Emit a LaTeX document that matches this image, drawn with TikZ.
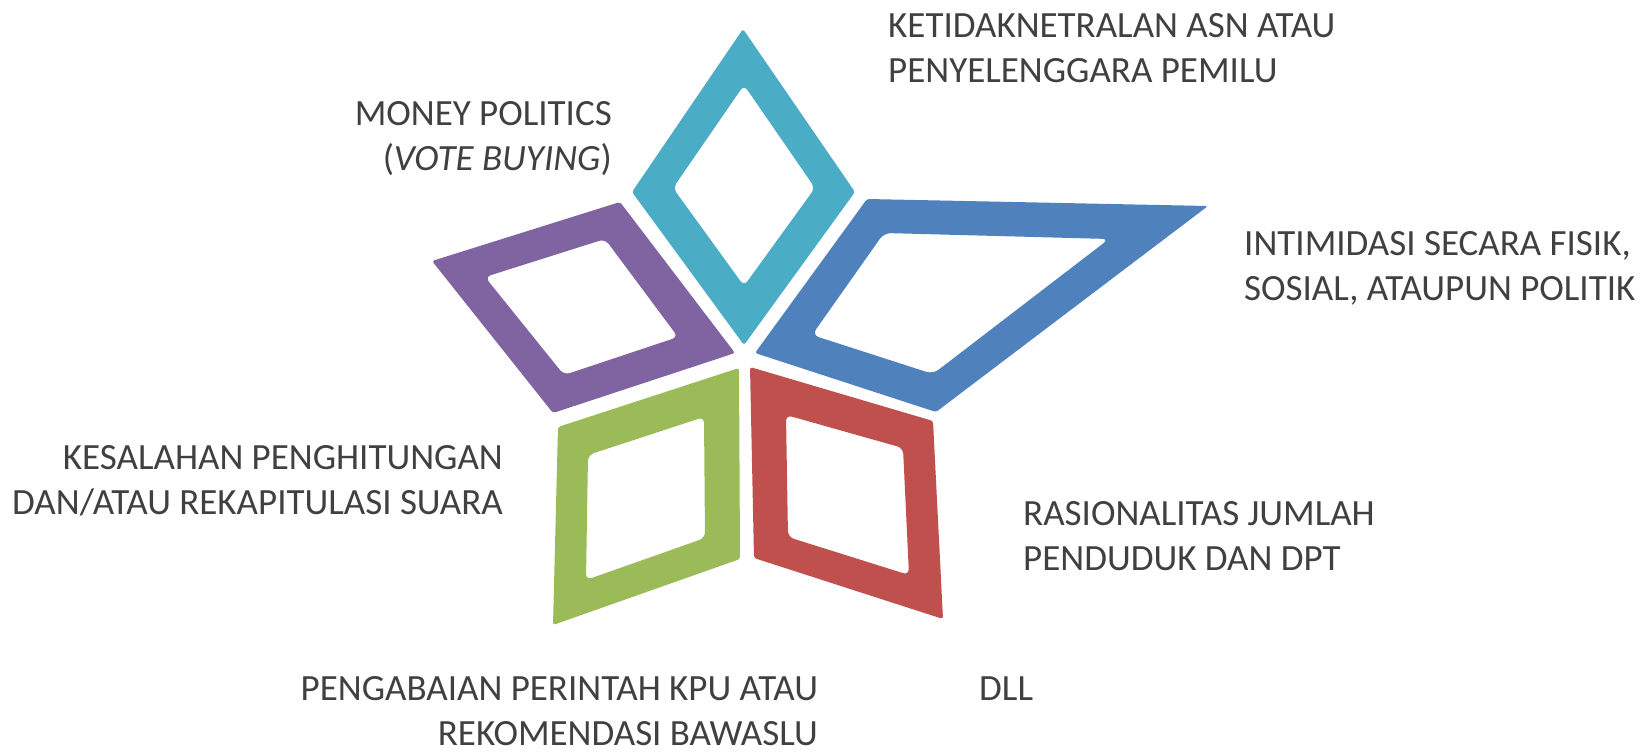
\documentclass[tikz,border=0pt]{standalone}
\usepackage{fontspec}
\setmainfont{Carlito}
\definecolor{aqua}{HTML}{4BACC6}
\definecolor{steel}{HTML}{4F81BD}
\definecolor{plum}{HTML}{8064A2}
\definecolor{leaf}{HTML}{9BBB59}
\definecolor{brick}{HTML}{C0504D}
\definecolor{ink}{HTML}{404040}
\tikzset{
petal/.style={
  fill=#1,
  even odd rule,
  rounded corners=2.5pt
  },
lbl/.style={
  inner sep=0pt,
  text=ink,
  font=\fontsize{37}{45.5}\selectfont
  }
}
\begin{document}
\begin{tikzpicture}[x=1pt,y=-1pt]
    \useasboundingbox (0,0) rectangle (1649,754);
    % petals
    \fill[petal=aqua] (743,29) -- (855,192) -- (744,345) -- (632,192) -- cycle
        [rounded corners=6pt] (744,85) -- (815,188) -- (744,286) -- (673,188) -- cycle;
    \fill[petal=steel] (867,199) -- (1208,206) -- (936,412) -- (755,353) -- cycle
        [rounded corners=7pt] (884,233) -- (1109,239) -- (933,374) -- (812,335) -- cycle;
    \fill[petal=plum] (620,202) -- (432,261) -- (553,413) -- (735,353) -- cycle
        [rounded corners=6pt] (605,239) -- (485,277) -- (564,375) -- (678,337) -- cycle;
    \fill[petal=leaf] (739,368) -- (558,427) -- (553,625) -- (740,559) -- cycle
        [rounded corners=6pt] (704,417) -- (588,455) -- (586,580) -- (705,538) -- cycle;
    \fill[petal=brick] (750,367) -- (933,421) -- (943,619) -- (754,558) -- cycle
        [rounded corners=6pt] (786,415) -- (903,448) -- (909,575) -- (788,537) -- cycle;
    % labels
    \node[lbl,anchor=north west,align=left] (asn) at (888,13)
        {KETIDAKNETRALAN ASN ATAU\\PENYELENGGARA PEMILU};
    \node[lbl,anchor=north east,align=right] (money) at (612,101)
        {MONEY POLITICS\\(\textit{VOTE BUYING})};
    \node[lbl,anchor=north west,align=left] (intim) at (1244,231)
        {INTIMIDASI SECARA FISIK,\\SOSIAL, ATAUPUN POLITIK};
    \node[lbl,anchor=north east,align=right] (hitung) at (503,445)
        {KESALAHAN PENGHITUNGAN\\DAN/ATAU REKAPITULASI SUARA};
    \node[lbl,anchor=north west,align=left] (dpt) at (1023,501)
        {RASIONALITAS JUMLAH\\PENDUDUK DAN DPT};
    \node[lbl,anchor=north east,align=right] (kpu) at (818,676)
        {PENGABAIAN PERINTAH KPU ATAU\\REKOMENDASI BAWASLU};
    \node[lbl,anchor=north west] (dll) at (979,677) {DLL};
\end{tikzpicture}
\end{document}
